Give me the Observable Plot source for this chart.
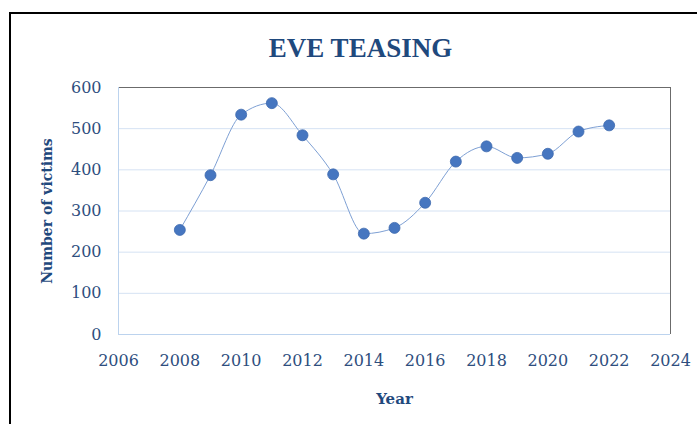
<!DOCTYPE html>
<html>
<head>
<meta charset="utf-8">
<script src="https://cdn.jsdelivr.net/npm/d3@7"></script>
<script src="https://cdn.jsdelivr.net/npm/@observablehq/plot@0.6"></script>
<style>
  html, body { margin: 0; padding: 0; background: #fff; }
  #chart { width: 697px; height: 424px; overflow: hidden; }
</style>
</head>
<body>
<div id="chart"></div>
<script>
const years = [2008, 2009, 2010, 2011, 2012, 2013, 2014, 2015, 2016, 2017, 2018, 2019, 2020, 2021, 2022];
const victims = [254, 387, 534, 562, 484, 389, 245, 259, 320, 420, 457, 429, 439, 493, 508];
const xTicks = [2006, 2008, 2010, 2012, 2014, 2016, 2018, 2020, 2022, 2024];
const yTicks = [0, 100, 200, 300, 400, 500, 600];
const title = "EVE TEASING";
const xLabel = "Year";
const yLabel = "Number of victims";

const data = years.map((y, i) => ({year: y, value: victims[i]}));

const navy = "#1F497D";
const tickColor = "#2E4E7E";

const plot = Plot.plot({
  width: 697,
  height: 424,
  marginLeft: 118,
  marginRight: 27,
  marginTop: 87,
  marginBottom: 90,
  style: {background: "#fff", fontFamily: "DejaVu Serif, serif"},
  x: {domain: [2006, 2024], ticks: xTicks, tickFormat: d3.format("d")},
  y: {domain: [0, 600], ticks: yTicks},
  marks: [
    Plot.gridY(yTicks.filter(d => d > 0 && d < 600), {stroke: "#D5E2F3", strokeOpacity: 1, strokeWidth: 1}),
    Plot.ruleY([600], {stroke: "#6b6b6b", strokeWidth: 1}),
    Plot.ruleX([2024], {stroke: "#6b6b6b", strokeWidth: 1}),
    Plot.ruleX([2006], {stroke: "#BCD3EE", strokeWidth: 1}),
    Plot.ruleY([0], {stroke: "#BCD3EE", strokeWidth: 1}),
    Plot.axisX({ticks: xTicks, tickFormat: d3.format("d"), tickSize: 0, tickPadding: 20, fontSize: 16, fill: tickColor, label: null}),
    Plot.axisY({ticks: yTicks, tickSize: 0, tickPadding: 17, fontSize: 16, fill: tickColor, label: null}),
    Plot.line(data, {x: "year", y: "value", curve: "monotone-x", stroke: "#7EA0D4", strokeWidth: 1}),
    Plot.dot(data, {x: "year", y: "value", r: 5.5, fill: "#4676C0", stroke: "#3E69AE", strokeWidth: 0.8}),
    Plot.text([title], {frameAnchor: "top", dx: -34, dy: -50, fontSize: 27, fontWeight: "bold", fill: navy, fontFamily: "Liberation Serif, serif", text: d => d}),
    Plot.text([xLabel], {frameAnchor: "bottom", dy: 69, fontSize: 15, fontWeight: "bold", fill: navy, fontFamily: "DejaVu Serif, serif", text: d => d}),
    Plot.text([yLabel], {frameAnchor: "left", dx: -71, rotate: -90, textAnchor: "middle", fontSize: 14, fontWeight: "bold", fill: navy, fontFamily: "DejaVu Serif, serif", text: d => d})
  ]
});

// outer chart-area frame
d3.select(plot).append("rect")
  .attr("x", 10).attr("y", 13).attr("width", 700).attr("height", 430)
  .attr("fill", "none").attr("stroke", "#000").attr("stroke-width", 2);

document.getElementById("chart").appendChild(plot);
</script>
</body>
</html>
